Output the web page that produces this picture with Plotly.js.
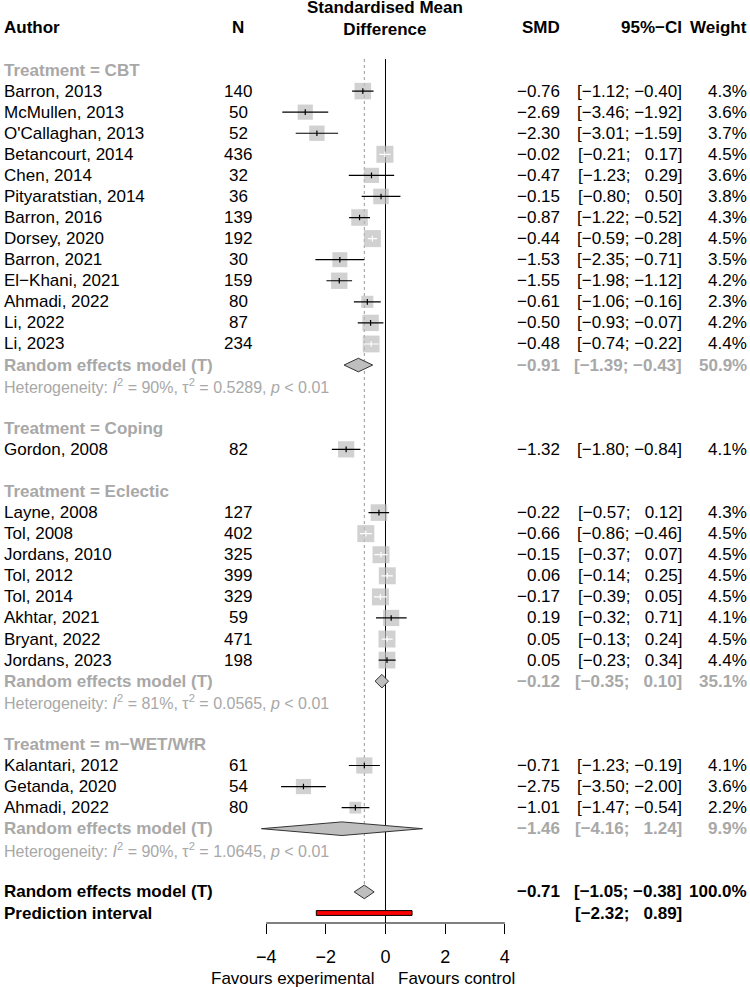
<!DOCTYPE html>
<html>
<head>
<meta charset="utf-8">
<script src="https://cdn.plot.ly/plotly-3.0.1.min.js"></script>
<style>html,body{margin:0;padding:0;background:#fff}</style>
</head>
<body>
<div id="forest" style="width:750px;height:987px"></div>
<script>
// ---- Data: studies in display order ----
const groupNames = ["CBT", "Coping", "Eclectic", "m\u2212WET/WfR"];
const studyGroup = [0,0,0,0,0,0,0,0,0,0,0,0,0, 1, 2,2,2,2,2,2,2,2, 3,3,3];
const authors = [
  "Barron, 2013", "McMullen, 2013", "O'Callaghan, 2013", "Betancourt, 2014", "Chen, 2014",
  "Pityaratstian, 2014", "Barron, 2016", "Dorsey, 2020", "Barron, 2021", "El\u2212Khani, 2021",
  "Ahmadi, 2022", "Li, 2022", "Li, 2023",
  "Gordon, 2008",
  "Layne, 2008", "Tol, 2008", "Jordans, 2010", "Tol, 2012", "Tol, 2014", "Akhtar, 2021",
  "Bryant, 2022", "Jordans, 2023",
  "Kalantari, 2012", "Getanda, 2020", "Ahmadi, 2022"
];
const sampleN = [140, 50, 52, 436, 32, 36, 139, 192, 30, 159, 80, 87, 234,
                 82,
                 127, 402, 325, 399, 329, 59, 471, 198,
                 61, 54, 80];
const smd = [-0.76, -2.69, -2.30, -0.02, -0.47, -0.15, -0.87, -0.44, -1.53, -1.55, -0.61, -0.50, -0.48,
             -1.32,
             -0.22, -0.66, -0.15, 0.06, -0.17, 0.19, 0.05, 0.05,
             -0.71, -2.75, -1.01];
const ciLower = [-1.12, -3.46, -3.01, -0.21, -1.23, -0.80, -1.22, -0.59, -2.35, -1.98, -1.06, -0.93, -0.74,
                 -1.80,
                 -0.57, -0.86, -0.37, -0.14, -0.39, -0.32, -0.13, -0.23,
                 -1.23, -3.50, -1.47];
const ciUpper = [-0.40, -1.92, -1.59, 0.17, 0.29, 0.50, -0.52, -0.28, -0.71, -1.12, -0.16, -0.07, -0.22,
                 -0.84,
                 0.12, -0.46, 0.07, 0.25, 0.05, 0.71, 0.24, 0.34,
                 -0.19, -2.00, -0.54];
const weight = [4.3, 3.6, 3.7, 4.5, 3.6, 3.8, 4.3, 4.5, 3.5, 4.2, 2.3, 4.2, 4.4,
                4.1,
                4.3, 4.5, 4.5, 4.5, 4.5, 4.1, 4.5, 4.4,
                4.1, 3.6, 2.2];

// ---- Subgroup random-effects summaries (null = single study, no pooling) ----
const subSmd    = [-0.91, null, -0.12, -1.46];
const subLower  = [-1.39, null, -0.35, -4.16];
const subUpper  = [-0.43, null, 0.10, 1.24];
const subWeight = [50.9, null, 35.1, 9.9];
const subI2     = ["90%", null, "81%", "90%"];
const subTau2   = ["0.5289", null, "0.0565", "1.0645"];
const subP      = ["&lt; 0.01", null, "&lt; 0.01", "&lt; 0.01"];

// ---- Overall model and prediction interval ----
const overallSmd = -0.71, overallLower = -1.05, overallUpper = -0.38, overallWeight = 100.0;
const predLower = -2.32, predUpper = 0.89;
const axisTicks = [-4, -2, 0, 2, 4];
const labelLeft = "Favours experimental", labelRight = "Favours control";

// ---- Layout constants (pixels) ----
const W = 750, H = 987, AXIS_Y_PX = 923;
const ROW0_PX = 70, ROW_PX = 21.075;          // first row centre and row pitch
const ZERO_PX = 385.5, PX_PER_UNIT = 29.83, X_HALF = 4.4;
const FONT = "Liberation Sans, Arial, Helvetica, sans-serif";
const GREY_TXT = "#a8a8a8", GREY_BOX = "#bebebe";
const COL_AUTHOR = 2, COL_N = 238, COL_MID = 385, COL_SMD = 562, COL_CI = 684, COL_W = 749;

const rowTop = -ROW0_PX / ROW_PX;
const rowBottom = (AXIS_Y_PX - ROW0_PX) / ROW_PX;
const pxToRow = px => px / ROW_PX;

const minus = "\u2212";
const fmt = v => (v < 0 ? minus : "") + Math.abs(v).toFixed(2);
const fmtPad = v => (v < 0 ? "" : "\u2007") + fmt(v);
const fmtCI = (lo, hi) => "[" + fmtPad(lo) + "; " + fmtPad(hi) + "]";
const fmtW = w => w.toFixed(1) + "%";

// ---- Assign rows ----
const studyRow = new Array(authors.length);
const groupHeaderRow = [], subRow = [], hetRow = [];
let r = 0;
groupNames.forEach((g, gi) => {
  groupHeaderRow[gi] = r++;
  studyGroup.forEach((sg, i) => { if (sg === gi) studyRow[i] = r++; });
  if (subSmd[gi] !== null) { subRow[gi] = r++; hetRow[gi] = r++; }
  else { subRow[gi] = null; hetRow[gi] = null; }
  r++; // spacer
});
const overallRow = r++;
const predRow = r++;

// ---- Annotations (text columns) ----
const ann = [];
function txt(text, xpx, row, anchor, opts) {
  opts = opts || {};
  ann.push({
    text: text, xref: "paper", x: xpx / W, yref: "y", y: row,
    xanchor: anchor, yanchor: "middle", showarrow: false,
    font: {family: FONT, size: opts.size || 17, color: opts.color || "#000"}
  });
}
// header
txt("<b>Author</b>", COL_AUTHOR, -2, "left");
txt("<b>N</b>", COL_N, -2, "center");
txt("<b>Standardised Mean</b><br><b>Difference</b>", COL_MID, pxToRow(18 - ROW0_PX), "center");
txt("<b>SMD</b>", COL_SMD, -2, "right");
txt("<b>95%\u2212CI</b>", COL_CI, -2, "right");
txt("<b>Weight</b>", COL_W, -2, "right");

groupNames.forEach((g, gi) => {
  txt("<b>Treatment = " + g + "</b>", COL_AUTHOR, groupHeaderRow[gi], "left", {color: GREY_TXT});
  if (subRow[gi] !== null) {
    const o = {color: GREY_TXT};
    txt("<b>Random effects model (T)</b>", COL_AUTHOR, subRow[gi], "left", o);
    txt("<b>" + fmt(subSmd[gi]) + "</b>", COL_SMD, subRow[gi], "right", o);
    txt("<b>" + fmtCI(subLower[gi], subUpper[gi]) + "</b>", COL_CI, subRow[gi], "right", o);
    txt("<b>" + fmtW(subWeight[gi]) + "</b>", COL_W, subRow[gi], "right", o);
    txt("Heterogeneity: <i>I</i><sup>2</sup> = " + subI2[gi] + ", \u03c4<sup>2</sup> = " + subTau2[gi] +
        ", <i>p</i> " + subP[gi], COL_AUTHOR, hetRow[gi], "left", {color: GREY_TXT, size: 16});
  }
});
authors.forEach((a, i) => {
  const row = studyRow[i];
  txt(a, COL_AUTHOR, row, "left");
  txt(String(sampleN[i]), COL_N, row, "center");
  txt(fmt(smd[i]), COL_SMD, row, "right");
  txt(fmtCI(ciLower[i], ciUpper[i]), COL_CI, row, "right");
  txt(fmtW(weight[i]), COL_W, row, "right");
});
txt("<b>Random effects model (T)</b>", COL_AUTHOR, overallRow, "left");
txt("<b>" + fmt(overallSmd) + "</b>", COL_SMD, overallRow, "right");
txt("<b>" + fmtCI(overallLower, overallUpper) + "</b>", COL_CI, overallRow, "right");
txt("<b>" + fmtW(overallWeight) + "</b>", COL_W, overallRow, "right");
txt("<b>Prediction interval</b>", COL_AUTHOR, predRow, "left");
txt("<b>" + fmtCI(predLower, predUpper) + "</b>", COL_CI, predRow, "right");

const favY = -(978 - AXIS_Y_PX) / AXIS_Y_PX;
ann.push({text: labelLeft, xref: "paper", x: (ZERO_PX - 10) / W, xanchor: "right",
          yref: "paper", y: favY, yanchor: "middle", showarrow: false,
          font: {family: FONT, size: 17, color: "#000"}});
ann.push({text: labelRight, xref: "paper", x: (ZERO_PX + 10) / W, xanchor: "left",
          yref: "paper", y: favY, yanchor: "middle", showarrow: false,
          font: {family: FONT, size: 17, color: "#000"}});

// ---- Traces ----
const boxSide = weight.map(w => 8.0 * Math.sqrt(w));
const squares = {
  type: "scatter", mode: "markers", x: smd, y: studyRow, cliponaxis: false,
  marker: {symbol: "square", size: boxSide, color: GREY_BOX, line: {width: 0}},
  hoverinfo: "skip"
};
const tickHalf = pxToRow(2.8);
const blackX = [], blackY = [], whiteX = [], whiteY = [];
smd.forEach((e, i) => {
  const inside = (ciUpper[i] - ciLower[i]) * PX_PER_UNIT < boxSide[i];
  const X = inside ? whiteX : blackX, Y = inside ? whiteY : blackY;
  const row = studyRow[i];
  X.push(ciLower[i], ciUpper[i], null, e, e, null);
  Y.push(row, row, null, row - tickHalf, row + tickHalf, null);
});
const ciBlack = {type: "scatter", mode: "lines", x: blackX, y: blackY, cliponaxis: false,
  line: {color: "#000", width: 1.2}, hoverinfo: "skip"};
const ciWhite = {type: "scatter", mode: "lines", x: whiteX, y: whiteY, cliponaxis: false,
  line: {color: "#fff", width: 1.2}, hoverinfo: "skip"};

const dHalf = pxToRow(6.8);
function diamond(est, lo, hi, row) {
  return {type: "scatter", mode: "lines", fill: "toself", fillcolor: GREY_BOX,
    x: [lo, est, hi, est, lo], y: [row, row - dHalf, row, row + dHalf, row],
    line: {color: "#333", width: 1}, cliponaxis: false, hoverinfo: "skip"};
}
const traces = [squares, ciBlack, ciWhite];
groupNames.forEach((g, gi) => {
  if (subRow[gi] !== null) traces.push(diamond(subSmd[gi], subLower[gi], subUpper[gi], subRow[gi]));
});
traces.push(diamond(overallSmd, overallLower, overallUpper, overallRow));
const pHalf = pxToRow(2.4);
traces.push({type: "scatter", mode: "lines", fill: "toself", fillcolor: "#ff0000",
  x: [predLower, predUpper, predUpper, predLower, predLower],
  y: [predRow - pHalf, predRow - pHalf, predRow + pHalf, predRow + pHalf, predRow - pHalf],
  line: {color: "#000", width: 1}, cliponaxis: false, hoverinfo: "skip"});

// ---- Reference lines and axis line ----
const lineTopRow = pxToRow(59 - ROW0_PX);
const shapes = [
  {type: "line", layer: "below", xref: "x", yref: "y", x0: 0, x1: 0, y0: lineTopRow, y1: rowBottom,
   line: {color: "#000", width: 1}},
  {type: "line", layer: "below", xref: "x", yref: "y", x0: overallSmd, x1: overallSmd,
   y0: lineTopRow, y1: overallRow - dHalf, line: {color: "#999", width: 1, dash: "dot"}},
  {type: "line", xref: "x", yref: "paper", x0: axisTicks[0], x1: axisTicks[axisTicks.length - 1],
   y0: 0, y1: 0, line: {color: "#000", width: 1}}
];

const domL = (ZERO_PX - X_HALF * PX_PER_UNIT) / W;
const domR = (ZERO_PX + X_HALF * PX_PER_UNIT) / W;

const layout = {
  width: W, height: H,
  margin: {l: 0, r: 0, t: 0, b: H - AXIS_Y_PX, pad: 0},
  paper_bgcolor: "#fff", plot_bgcolor: "rgba(0,0,0,0)",
  showlegend: false, hovermode: false,
  font: {family: FONT, size: 17, color: "#000"},
  xaxis: {domain: [domL, domR], range: [-X_HALF, X_HALF], fixedrange: true,
    showgrid: false, zeroline: false, showline: false,
    tickmode: "array", tickvals: axisTicks, ticks: "outside", ticklen: 10, tickwidth: 1,
    ticklabelstandoff: 7,
    tickcolor: "#000", tickfont: {family: FONT, size: 18, color: "#000"}},
  yaxis: {domain: [0, 1], range: [rowBottom, rowTop], visible: false, fixedrange: true,
    showgrid: false, zeroline: false},
  shapes: shapes,
  annotations: ann
};

Plotly.newPlot("forest", traces, layout, {staticPlot: true, displayModeBar: false});
</script>
</body>
</html>
